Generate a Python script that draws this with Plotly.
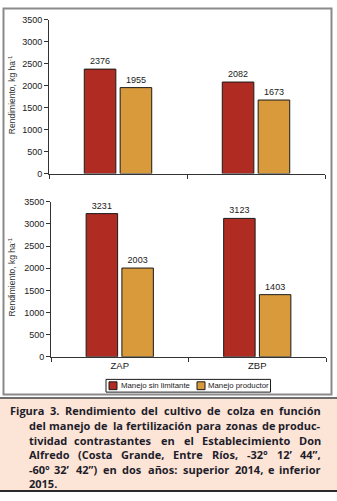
import plotly.graph_objects as go

W, H = 337, 501

# ---- data ----
categories = ["ZAP", "ZBP"]
series_names = ["Manejo sin limitante", "Manejo productor"]
top_sin_limitante = [2376, 2082]
top_productor = [1955, 1673]
bottom_sin_limitante = [3231, 3123]
bottom_productor = [2003, 1403]
y_ticks = [0, 500, 1000, 1500, 2000, 2500, 3000, 3500]

colors = ["#b02b21", "#d99a3b"]
caption_lines = [
    "Figura 3. Rendimiento del cultivo de colza en función",
    "del manejo de la fertilización para zonas de produc-",
    "tividad contrastantes en el Establecimiento Don",
    "Alfredo (Costa Grande, Entre Ríos, -32° 12’ 44”,",
    "-60° 32’ 42”) en dos años: superior 2014, e inferior",
    "2015.",
]


def px(x):
    return x / W


def py(y):
    return 1 - y / H


fig = go.Figure()
txtfont = dict(family="Liberation Sans, Arial, sans-serif", size=9, color="#1a1a1a")

for vals_a, vals_b, xa, ya in [
    (top_sin_limitante, top_productor, "x", "y"),
    (bottom_sin_limitante, bottom_productor, "x2", "y2"),
]:
    for name, vals, col in zip(series_names, [vals_a, vals_b], colors):
        fig.add_trace(go.Bar(
            x=categories, y=vals, name=name, xaxis=xa, yaxis=ya,
            marker=dict(color=col, line=dict(color="#1a1a1a", width=1)),
            text=[str(v) for v in vals], textposition="outside",
            textfont=txtfont, cliponaxis=False, showlegend=False,
        ))

axis_common = dict(showline=True, linecolor="#333333", linewidth=1, showgrid=False,
                   zeroline=False, ticks="outside", ticklen=4, tickcolor="#333333",
                   tickfont=dict(family="Liberation Sans, Arial, sans-serif", size=9, color="#1a1a1a"))

fig.update_layout(
    width=W, height=H, margin=dict(l=0, r=0, t=0, b=0),
    paper_bgcolor="white", plot_bgcolor="white",
    barmode="group", bargap=0.48, bargroupgap=0.12,
    showlegend=False,
    xaxis=dict(domain=[px(49), px(325)], anchor="y", tickson="boundaries",
               showticklabels=False, **axis_common),
    yaxis=dict(domain=[py(172), py(15)], anchor="x", range=[0, 3500],
               tickvals=y_ticks, **axis_common),
    xaxis2=dict(domain=[px(51), px(326)], anchor="y2", tickson="boundaries",
                showticklabels=True, **axis_common),
    yaxis2=dict(domain=[py(359), py(200.7)], anchor="x2", range=[0, 3500],
                tickvals=y_ticks, **axis_common),
)
fig.layout.xaxis2.tickfont.size = 9.5

shapes = []
annotations = []

# outer frame of chart
shapes.append(dict(type="rect", xref="paper", yref="paper", x0=px(3.5), x1=px(331.5),
                   y0=py(397.5), y1=py(3.5), line=dict(color="#8a8a8a", width=2)))
# caption background
shapes.append(dict(type="rect", xref="paper", yref="paper", x0=0, x1=1,
                   y0=py(495.5), y1=py(401.5), fillcolor="#fce4d6", line=dict(width=0), layer="below"))
shapes.append(dict(type="line", xref="paper", yref="paper", x0=0, x1=1,
                   y0=py(401), y1=py(401), line=dict(color="#6e6e6e", width=2)))
shapes.append(dict(type="line", xref="paper", yref="paper", x0=0, x1=1,
                   y0=py(496), y1=py(496), line=dict(color="#2a2a2a", width=2)))

# y axis titles
for yc in [92, 278]:
    annotations.append(dict(xref="paper", yref="paper", x=px(12), y=py(yc),
                            xanchor="center", yanchor="middle",
                            text="Rendimiento, kg ha<sup>-1</sup>", showarrow=False, textangle=-90,
                            font=dict(family="Liberation Sans, Arial, sans-serif", size=8.5, color="#333333")))

# manual legend
shapes.append(dict(type="rect", xref="paper", yref="paper", x0=px(106), x1=px(270.5),
                   y0=py(395), y1=py(382), line=dict(color="#1a1a1a", width=1), fillcolor="white"))
leg_items = [(109, 119.5), (197, 206.5)]
for (sx, tx), name, col in zip(leg_items, series_names, colors):
    shapes.append(dict(type="rect", xref="paper", yref="paper", x0=px(sx), x1=px(sx + 8),
                       y0=py(392.5), y1=py(384.5), fillcolor=col, line=dict(color="#1a1a1a", width=1)))
    annotations.append(dict(xref="paper", yref="paper", x=px(tx), y=py(388.5), xanchor="left",
                            yanchor="middle", text=name, showarrow=False, borderpad=0,
                            font=dict(family="Liberation Sans, Arial, sans-serif", size=7.8, color="#1a1a1a")))

# caption, justified by per-word placement
cw = {' ': 0.26, 'i': 0.3, 'l': 0.3, 'j': 0.3, 'f': 0.38, 't': 0.42, 'r': 0.44, 's': 0.5,
      'c': 0.51, 'z': 0.5, 'm': 0.95, 'w': 0.86, 'ó': 0.62, 'í': 0.3, 'ñ': 0.66, 'a': 0.59,
      'e': 0.59, 'o': 0.62, 'n': 0.66, 'u': 0.66, 'd': 0.64, 'b': 0.64, 'p': 0.64, 'g': 0.57,
      'h': 0.66, 'v': 0.57, 'y': 0.57, 'k': 0.62, 'F': 0.58, 'R': 0.66, 'E': 0.57, 'D': 0.74,
      'A': 0.69, 'C': 0.64, 'G': 0.73, '.': 0.28, ',': 0.28, '-': 0.32, '(': 0.34, ')': 0.34,
      ':': 0.28, '°': 0.42, '’': 0.24, '”': 0.45}
FS = 11.0
cap_font = dict(family="Open Sans, Noto Sans, sans-serif", size=FS, color="#1d1d2b")


def wwidth(word):
    return sum(cw.get(ch, 0.57) for ch in word) * FS


line_y = [414, 429, 444, 459, 474, 488.5]
right_edge = 322
for i, (line, yy) in enumerate(zip(caption_lines, line_y)):
    x_start = 9 if i == 0 else 28
    fnt = dict(cap_font)
    if i == len(caption_lines) - 1:
        annotations.append(dict(xref="paper", yref="paper", x=px(x_start), y=py(yy), xanchor="left",
                                yanchor="middle", text="<b>%s</b>" % line, showarrow=False, font=fnt,
                                borderpad=0))
        continue
    words = line.split(" ")
    widths = [wwidth(w) for w in words]
    gap = (right_edge - x_start - sum(widths)) / (len(words) - 1)
    x = x_start
    for j, (w, wd) in enumerate(zip(words, widths)):
        if j == 0:
            xa, anchor = x, "left"
        elif j == len(words) - 1:
            xa, anchor = right_edge, "right"
        else:
            xa, anchor = x + wd / 2, "center"
        annotations.append(dict(xref="paper", yref="paper", x=px(xa), y=py(yy), xanchor=anchor,
                                yanchor="middle", text="<b>%s</b>" % w, showarrow=False, font=fnt,
                                borderpad=0))
        x += wd + gap

fig.update_layout(shapes=shapes, annotations=annotations)
fig.write_html("out.html")
